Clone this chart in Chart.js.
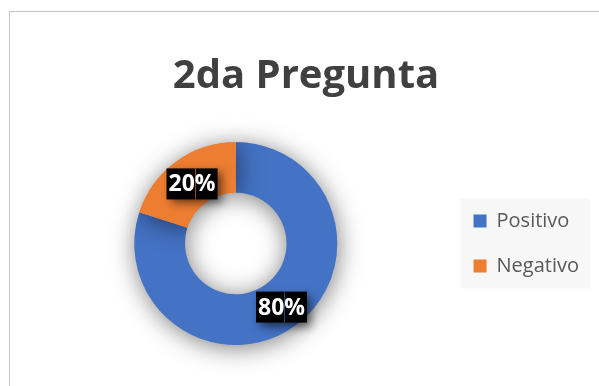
<!DOCTYPE html>
<html lang="es">
<head>
<meta charset="utf-8">
<title>2da Pregunta</title>
<script src="https://cdn.jsdelivr.net/npm/chart.js@4/dist/chart.umd.min.js"></script>
<style>
  html, body { margin: 0; padding: 0; background: #ffffff; }
  #wrap { position: relative; width: 599px; height: 386px; overflow: hidden; }
  #frame { position: absolute; left: 9px; top: 11px; width: 620px; height: 400px;
           border: 1px solid #c4c4c4; box-sizing: border-box; pointer-events: none; }
  canvas { position: absolute; left: 0; top: 0; }
</style>
</head>
<body>
<div id="wrap">
  <canvas id="chart" width="599" height="386"></canvas>
  <div id="frame"></div>
</div>
<script>
// Answers to the second question
const categories = ['Positivo', 'Negativo'];
const values = [80, 20];
const valueLabels = ['80%', '20%'];
const colors = ['#4472C4', '#ED7D31'];

const FONT = "'Open Sans', 'Noto Sans', sans-serif";

// Keep the legend block vertically aligned with the plot area
const legendBand = {
  id: 'legendBand',
  afterLayout(chart) {
    const lg = chart.legend, ca = chart.chartArea;
    if (!lg || !ca) return;
    lg.top = ca.top;
    lg.bottom = ca.bottom;
    lg.height = ca.bottom - ca.top;
  }
};

// Soft drop shadow under the ring
const ringShadow = {
  id: 'ringShadow',
  beforeDatasetDraw(chart) {
    const ctx = chart.ctx;
    ctx.save();
    ctx.shadowColor = 'rgba(0,0,0,0.5)';
    ctx.shadowBlur = 24;
    ctx.shadowOffsetX = 1;
    ctx.shadowOffsetY = 3;
  },
  afterDatasetDraw(chart) {
    chart.ctx.restore();
  }
};

// Light panel behind the legend entries
const legendPanel = {
  id: 'legendPanel',
  beforeDraw(chart) {
    const lg = chart.legend;
    if (!lg || !lg.legendHitBoxes || !lg.legendHitBoxes.length) return;
    const hb = lg.legendHitBoxes;
    const first = hb[0], last = hb[hb.length - 1];
    const x0 = first.left - 13;
    const y0 = first.top - 12.5;
    const y1 = last.top + last.height + 12.5;
    const ctx = chart.ctx;
    ctx.save();
    ctx.fillStyle = '#f7f7f7';
    ctx.fillRect(x0, y0, 130, y1 - y0);
    ctx.restore();
  }
};

// Percentage tags: black boxes with white text at the middle of each slice
const valueTags = {
  id: 'valueTags',
  afterDatasetsDraw(chart) {
    const ctx = chart.ctx;
    const meta = chart.getDatasetMeta(0);
    ctx.save();
    ctx.font = 'bold 23px ' + FONT;
    ctx.textBaseline = 'middle';
    ctx.textAlign = 'left';
    meta.data.forEach((arc, i) => {
      const p = arc.tooltipPosition();
      const text = valueLabels[i];
      const num = text.replace('%', '');
      const tw = ctx.measureText(text).width;
      const nw = ctx.measureText(num).width;
      const bw = tw + 4, bh = 31;
      const bx = p.x - bw / 2 + 1, by = p.y - bh / 2 + 2;
      ctx.save();
      ctx.shadowColor = 'rgba(0,0,0,0.6)';
      ctx.shadowBlur = 9;
      ctx.shadowOffsetX = 4;
      ctx.shadowOffsetY = 4;
      ctx.fillStyle = '#000000';
      ctx.fillRect(bx, by, bw, bh);
      ctx.restore();
      // hairline seam between the number and the percent sign
      ctx.save();
      ctx.globalAlpha = 0.6;
      ctx.fillStyle = colors[i];
      ctx.fillRect(Math.round(bx + 2 + nw), by, 1, bh);
      ctx.restore();
      ctx.fillStyle = '#ffffff';
      ctx.fillText(text, bx + 2, by + bh / 2 + 1);
    });
    ctx.restore();
  }
};

new Chart(document.getElementById('chart'), {
  type: 'doughnut',
  data: {
    labels: categories,
    datasets: [{
      data: values,
      backgroundColor: colors,
      borderWidth: 0,
      hoverOffset: 0
    }]
  },
  options: {
    responsive: false,
    animation: false,
    cutout: '50%',
    layout: { padding: { left: 23, right: 10, top: 0, bottom: 41 } },
    plugins: {
      title: {
        display: true,
        text: '2da Pregunta',
        color: '#404040',
        font: { family: FONT, size: 40, weight: 'bold' },
        padding: { top: 53, bottom: 41 }
      },
      legend: {
        display: true,
        position: 'right',
        labels: {
          boxWidth: 13,
          boxHeight: 13,
          padding: 25,
          color: '#595959',
          font: { family: FONT, size: 20 }
        }
      },
      tooltip: { enabled: false }
    }
  },
  plugins: [legendBand, legendPanel, ringShadow, valueTags]
});
</script>
</body>
</html>
